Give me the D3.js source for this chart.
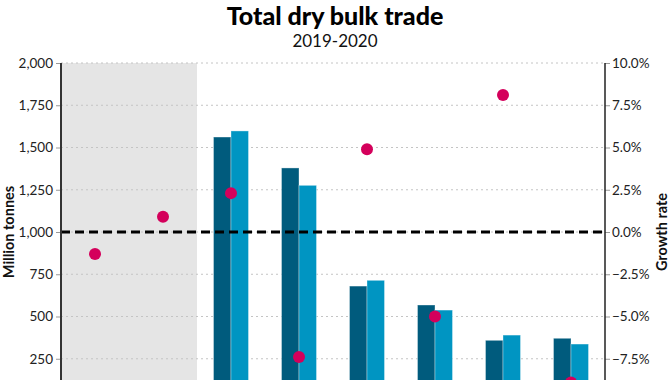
<!DOCTYPE html>
<html>
<head>
<meta charset="utf-8">
<script src="https://cdn.jsdelivr.net/npm/d3@7"></script>
<style>
  html, body { margin: 0; padding: 0; background: #fff; }
  svg { display: block; font-family: Lato, "Open Sans", sans-serif; }
</style>
</head>
<body>
<svg id="chart" width="670" height="380"></svg>
<script>
// ---- data ----
const categories = ["Total 2019", "Total 2020", "Iron ore", "Coal", "Grain", "Minor bulks", "Bauxite", "Other"];
const shaded = ["Total 2019", "Total 2020"];
const series = ["2019", "2020"];
const values2019 = [null, null, 1562, 1379, 680, 568, 359, 371];
const values2020 = [null, null, 1598, 1276, 714, 538, 390, 337];
const growth = [-1.3, 0.9, 2.3, -7.4, 4.9, -5.0, 8.1, -8.9];
const leftTicks = [250, 500, 750, 1000, 1250, 1500, 1750, 2000];
const rightTicks = [-7.5, -5, -2.5, 0, 2.5, 5, 7.5, 10];
const title = "Total dry bulk trade";
const subtitle = "2019-2020";

// ---- layout ----
const W = 670, H = 380;
const m = { left: 61, right: 65, top: 63 };
const plotBottom = 401;
const svg = d3.select("#chart");

const x = d3.scaleBand().domain(categories).range([m.left, W - m.right]);
const xs = d3.scaleBand().domain(series).range([0, 35]);
const y = d3.scaleLinear().domain([0, 2000]).range([plotBottom, m.top]);
const y2 = d3.scaleLinear().domain([-10, 10]).range([plotBottom, m.top]);

// shaded band
svg.append("rect")
  .attr("x", x(shaded[0])).attr("y", m.top)
  .attr("width", x(shaded[shaded.length - 1]) + x.bandwidth() - x(shaded[0]))
  .attr("height", plotBottom - m.top)
  .attr("fill", "#e5e5e5");

// gridlines
svg.append("g").selectAll("line").data(leftTicks).join("line")
  .attr("x1", m.left).attr("x2", W - m.right)
  .attr("y1", d => y(d)).attr("y2", d => y(d))
  .attr("stroke", "#c4c4c4").attr("stroke-width", 1)
  .attr("stroke-dasharray", "2,3");

// bars
const barData = [];
categories.forEach((c, i) => {
  if (values2019[i] != null) barData.push({ c, s: "2019", v: values2019[i] });
  if (values2020[i] != null) barData.push({ c, s: "2020", v: values2020[i] });
});
const color = d3.scaleOrdinal().domain(series).range(["#005b7d", "#0095c2"]);
svg.append("g").selectAll("rect").data(barData).join("rect")
  .attr("x", d => x(d.c) + (x.bandwidth() - 35) / 2 + xs(d.s))
  .attr("y", d => y(d.v))
  .attr("width", xs.bandwidth())
  .attr("height", d => y(0) - y(d.v))
  .attr("fill", d => color(d.s))
  .attr("stroke", "rgba(255,255,255,0.35)")
  .attr("stroke-width", 1);

// zero / 1000 dashed line
svg.append("line")
  .attr("x1", m.left).attr("x2", W - m.right)
  .attr("y1", y2(0)).attr("y2", y2(0))
  .attr("stroke", "#000").attr("stroke-width", 3)
  .attr("stroke-dasharray", "9,5");

// dots
svg.append("g").selectAll("circle").data(growth).join("circle")
  .attr("cx", (d, i) => x(categories[i]) + x.bandwidth() / 2)
  .attr("cy", d => y2(d))
  .attr("r", 6)
  .attr("fill", "#d4005b");

// left axis
const yAxis = d3.axisLeft(y).tickValues(leftTicks).tickSize(5).tickPadding(3)
  .tickFormat(d3.format(","));
const gl = svg.append("g").attr("transform", `translate(${m.left},0)`).call(yAxis);
gl.select(".domain").remove();
gl.selectAll(".tick line").attr("stroke", "#999");
gl.selectAll("text").attr("font-size", 13.5).attr("fill", "#222").attr("font-family", "Lato");
svg.append("line").attr("x1", m.left).attr("x2", m.left)
  .attr("y1", m.top).attr("y2", plotBottom)
  .attr("stroke", "#333").attr("stroke-width", 2);

// right axis
const y2Axis = d3.axisRight(y2).tickValues(rightTicks).tickSize(5).tickPadding(2)
  .tickFormat(d => d3.format(".1f")(d) + "%");
const gr = svg.append("g").attr("transform", `translate(${W - m.right},0)`).call(y2Axis);
gr.select(".domain").remove();
gr.selectAll(".tick line").attr("stroke", "#999");
gr.selectAll("text").attr("font-size", 13.5).attr("fill", "#222").attr("font-family", "Lato");
svg.append("line").attr("x1", W - m.right).attr("x2", W - m.right)
  .attr("y1", m.top).attr("y2", plotBottom)
  .attr("stroke", "#222").attr("stroke-width", 1.5);

// axis titles
svg.append("text")
  .attr("transform", `translate(14,${y2(0)}) rotate(-90)`)
  .attr("text-anchor", "middle")
  .attr("font-size", 14.5).attr("font-weight", 700).attr("fill", "#111")
  .text("Million tonnes");
svg.append("text")
  .attr("transform", `translate(667,${y2(0)}) rotate(-90)`)
  .attr("text-anchor", "middle")
  .attr("font-size", 14.5).attr("font-weight", 700).attr("fill", "#111")
  .text("Growth rate");

// titles
svg.append("text").attr("x", 335).attr("y", 25)
  .attr("text-anchor", "middle").attr("font-size", 25).attr("font-weight", 900)
  .attr("fill", "#000").text(title);
svg.append("text").attr("x", 335).attr("y", 47)
  .attr("text-anchor", "middle").attr("font-size", 17).attr("fill", "#111")
  .text(subtitle);
</script>
</body>
</html>
